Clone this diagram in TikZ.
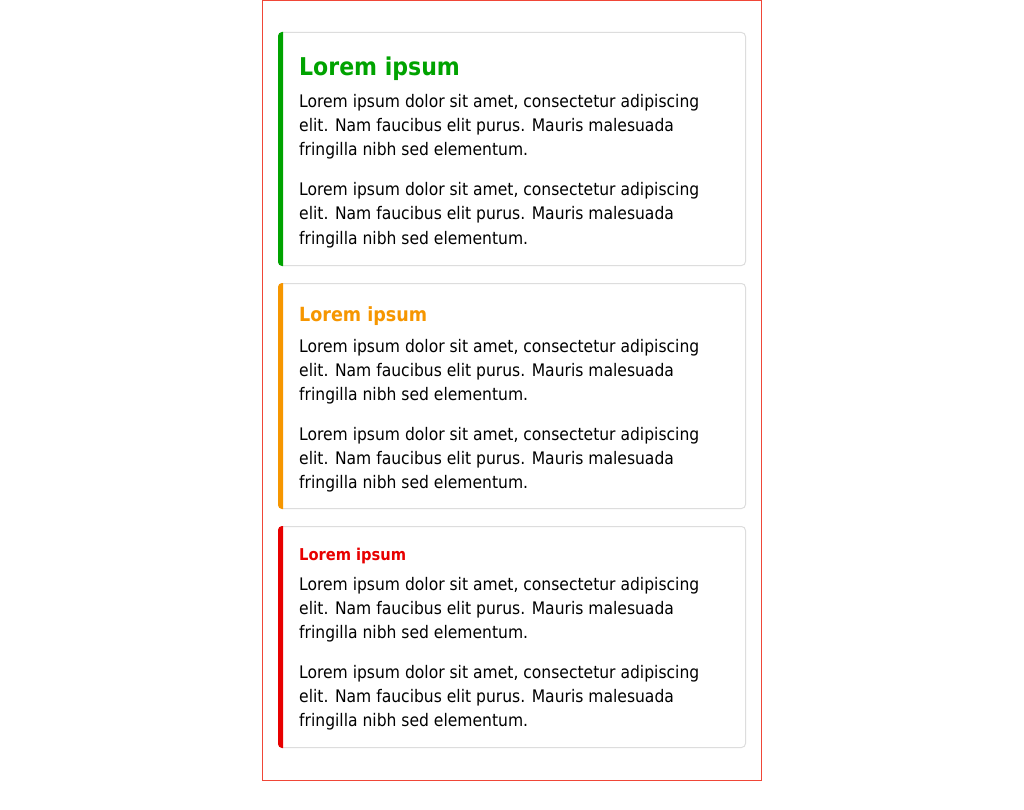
\documentclass[tikz,border=0pt]{standalone}
\usepackage{fontspec}
\setmainfont{DejaVu Sans Condensed}
\definecolor{cgreen}{RGB}{0,163,0}
\definecolor{corange}{RGB}{246,150,0}
\definecolor{cred}{RGB}{232,0,0}
\definecolor{cborder}{RGB}{221,221,221}
\definecolor{cframe}{RGB}{240,70,55}
\newcommand\txtA{Lorem ipsum dolor sit amet, consectetur adipiscing}
\newcommand\txtB{elit. Nam faucibus elit purus. Mauris malesuada}
\newcommand\txtC{fringilla nibh sed elementum.}
\begin{document}
\begin{tikzpicture}[x=1pt,y=-1pt,
  bodyline/.style={anchor=base west, inner sep=0pt, text=black, font=\fontsize{17.3}{24}\selectfont},
  titleline/.style={anchor=base west, inner sep=0pt, font=\bfseries\fontsize{#1}{#1}\selectfont},
  card/.style={draw=cborder, fill=white, line width=1pt, rounded corners=4pt},
  frame/.style={draw=cframe, line width=1pt}]
\useasboundingbox (0,0) rectangle (1024,810);
\fill[white] (0,0) rectangle (1024,810);
\draw[frame] (262.5,0.5) rectangle (761.5,780.5);
% card 1
\draw[card] (278.5,32.5) rectangle (745.5,265.5);
\fill[cgreen] (283,32) [rounded corners=4pt] -- (278,32) -- (278,266) [sharp corners] -- (283,266) -- cycle;
\node[titleline=24.5, text=cgreen] (t1) at (299,76) {Lorem ipsum};
\node[bodyline] (a1) at (299,108) {\txtA};
\node[bodyline] (a2) at (299,132) {\txtB};
\node[bodyline] (a3) at (299,156) {\txtC};
\node[bodyline] (a4) at (299,196) {\txtA};
\node[bodyline] (a5) at (299,220) {\txtB};
\node[bodyline] (a6) at (299,244) {\txtC};
% card 2
\draw[card] (278.5,283.5) rectangle (745.5,508.5);
\fill[corange] (283,283) [rounded corners=4pt] -- (278,283) -- (278,509) [sharp corners] -- (283,509) -- cycle;
\node[titleline=19.5, text=corange] (t2) at (299,321) {Lorem ipsum};
\node[bodyline] (b1) at (299,352) {\txtA};
\node[bodyline] (b2) at (299,376) {\txtB};
\node[bodyline] (b3) at (299,400) {\txtC};
\node[bodyline] (b4) at (299,440) {\txtA};
\node[bodyline] (b5) at (299,464) {\txtB};
\node[bodyline] (b6) at (299,488) {\txtC};
% card 3
\draw[card] (278.5,526.5) rectangle (745.5,747.5);
\fill[cred] (283,526) [rounded corners=4pt] -- (278,526) -- (278,748) [sharp corners] -- (283,748) -- cycle;
\node[titleline=16.3, text=cred] (t3) at (299,560) {Lorem ipsum};
\node[bodyline] (c1) at (299,590) {\txtA};
\node[bodyline] (c2) at (299,614) {\txtB};
\node[bodyline] (c3) at (299,638) {\txtC};
\node[bodyline] (c4) at (299,678) {\txtA};
\node[bodyline] (c5) at (299,702) {\txtB};
\node[bodyline] (c6) at (299,726) {\txtC};
\end{tikzpicture}
\end{document}
